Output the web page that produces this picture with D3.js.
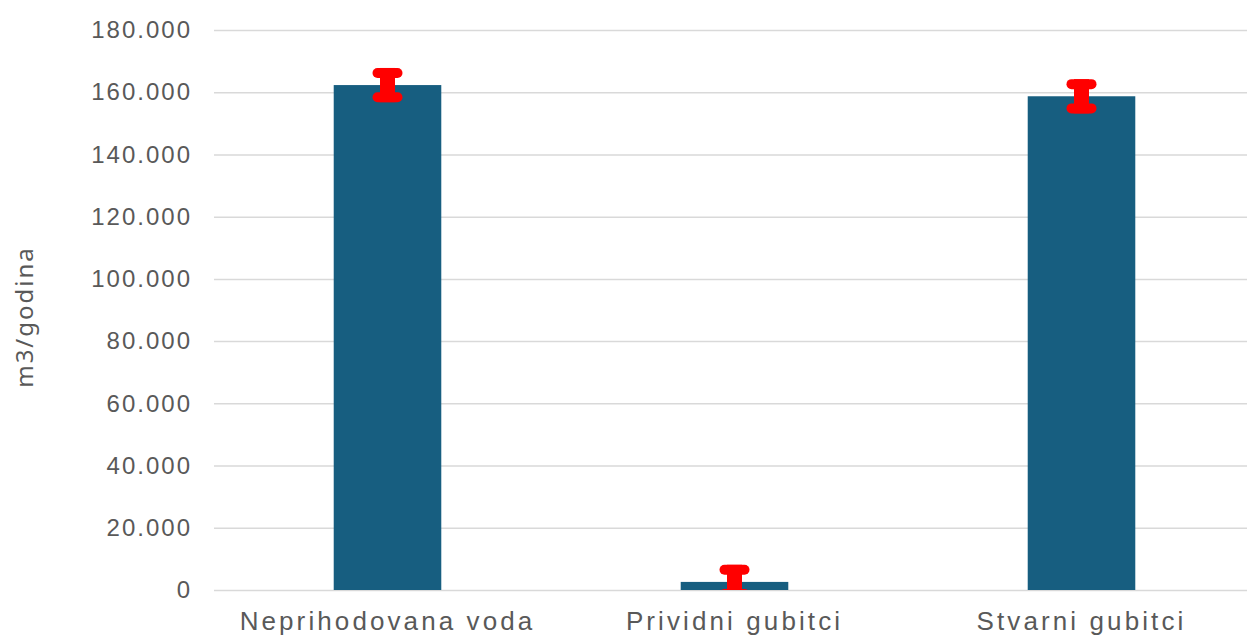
<!DOCTYPE html>
<html>
<head>
<meta charset="utf-8">
<script src="https://cdn.jsdelivr.net/npm/d3@7"></script>
<style>
  body { margin: 0; background: #fff; }
  svg { display: block; font-family: "Noto Sans", sans-serif; }
</style>
</head>
<body>
<div id="chart"><svg width="1247" height="641"></svg></div>
<script>
// Chart data
var categories = ["Neprihodovana voda", "Prividni gubitci", "Stvarni gubitci"];
var values = [162300, 2600, 158700];
var errors = [5500, 5500, 5500];
var yTicks = [0, 20000, 40000, 60000, 80000, 100000, 120000, 140000, 160000, 180000];
var yTitle = "m3/godina";

var svg = d3.select("#chart").select("svg");
var svgWidth = +svg.attr("width");
var svgHeight = +svg.attr("height");

// Plot area
var margin = {top: 30, left: 214, bottom: 51, right: -8};
var width = svgWidth - margin.left - margin.right;
var height = svgHeight - margin.top - margin.bottom;

var g = svg.append("g")
    .attr("transform", "translate(" + [margin.left, margin.top] + ")");

var locale = d3.formatLocale({decimal: ",", thousands: ".", grouping: [3], currency: ["", ""]});
var fmt = locale.format(",d");

var xScale = d3.scaleBand()
    .domain(categories)
    .range([0, width])
    .paddingInner(0.69)
    .paddingOuter(0.345);

var yScale = d3.scaleLinear()
    .domain([0, 180000])
    .range([height, 0]);

// Gridlines + y labels
var yAxis = d3.axisLeft(yScale)
    .tickValues(yTicks)
    .tickFormat(function(d) { return fmt(d); })
    .tickSize(-width)
    .tickPadding(22);

var yAxisG = g.append("g").attr("class", "y axis").call(yAxis);
yAxisG.select(".domain").remove();
yAxisG.selectAll(".tick line").attr("stroke", "#d9d9d9").attr("stroke-width", 1.5);
yAxisG.selectAll(".tick text")
    .attr("fill", "#595959")
    .style("font-size", "24px")
    .style("letter-spacing", "2px");

// x labels
var xAxis = d3.axisBottom(xScale).tickSize(0).tickPadding(22);
var xAxisG = g.append("g")
    .attr("class", "x axis")
    .attr("transform", "translate(0," + height + ")")
    .call(xAxis);
xAxisG.select(".domain").remove();
xAxisG.selectAll(".tick text")
    .attr("fill", "#595959")
    .style("font-size", "26px")
    .style("letter-spacing", "3.1px");

// Bars
g.selectAll(".bar")
    .data(values)
    .enter()
    .append("rect")
    .attr("class", "bar")
    .attr("x", function(d, i) { return xScale(categories[i]); })
    .attr("y", function(d) { return yScale(d); })
    .attr("width", xScale.bandwidth())
    .attr("height", function(d) { return height - yScale(d); })
    .attr("fill", "#175e80");

// Error bars, clipped to plot area
g.append("clipPath").attr("id", "plotclip")
    .append("rect").attr("x", 0).attr("y", -20).attr("width", width).attr("height", height + 20);

var errG = g.append("g").attr("clip-path", "url(#plotclip)")
    .selectAll(".err")
    .data(values)
    .enter()
    .append("g")
    .attr("class", "err")
    .attr("transform", function(d, i) {
        return "translate(" + (xScale(categories[i]) + xScale.bandwidth() / 2) + ",0)";
    });

errG.append("line")
    .attr("x1", 0).attr("x2", 0)
    .attr("y1", function(d, i) { return yScale(d + errors[i]); })
    .attr("y2", function(d, i) { return yScale(d - errors[i]); })
    .attr("stroke", "red")
    .attr("stroke-width", 15);

[1, -1].forEach(function(s) {
    errG.append("line")
        .attr("x1", -10).attr("x2", 10)
        .attr("y1", function(d, i) { return yScale(d + s * errors[i]) + s * 5; })
        .attr("y2", function(d, i) { return yScale(d + s * errors[i]) + s * 5; })
        .attr("stroke", "red")
        .attr("stroke-width", 10)
        .attr("stroke-linecap", "round");
});

// y title
svg.append("text")
    .attr("transform", "translate(33," + (margin.top + height / 2 + 7) + ") rotate(-90)")
    .attr("text-anchor", "middle")
    .attr("fill", "#595959")
    .style("font-size", "24px")
    .style("letter-spacing", "2px")
    .text(yTitle);
</script>
</body>
</html>
